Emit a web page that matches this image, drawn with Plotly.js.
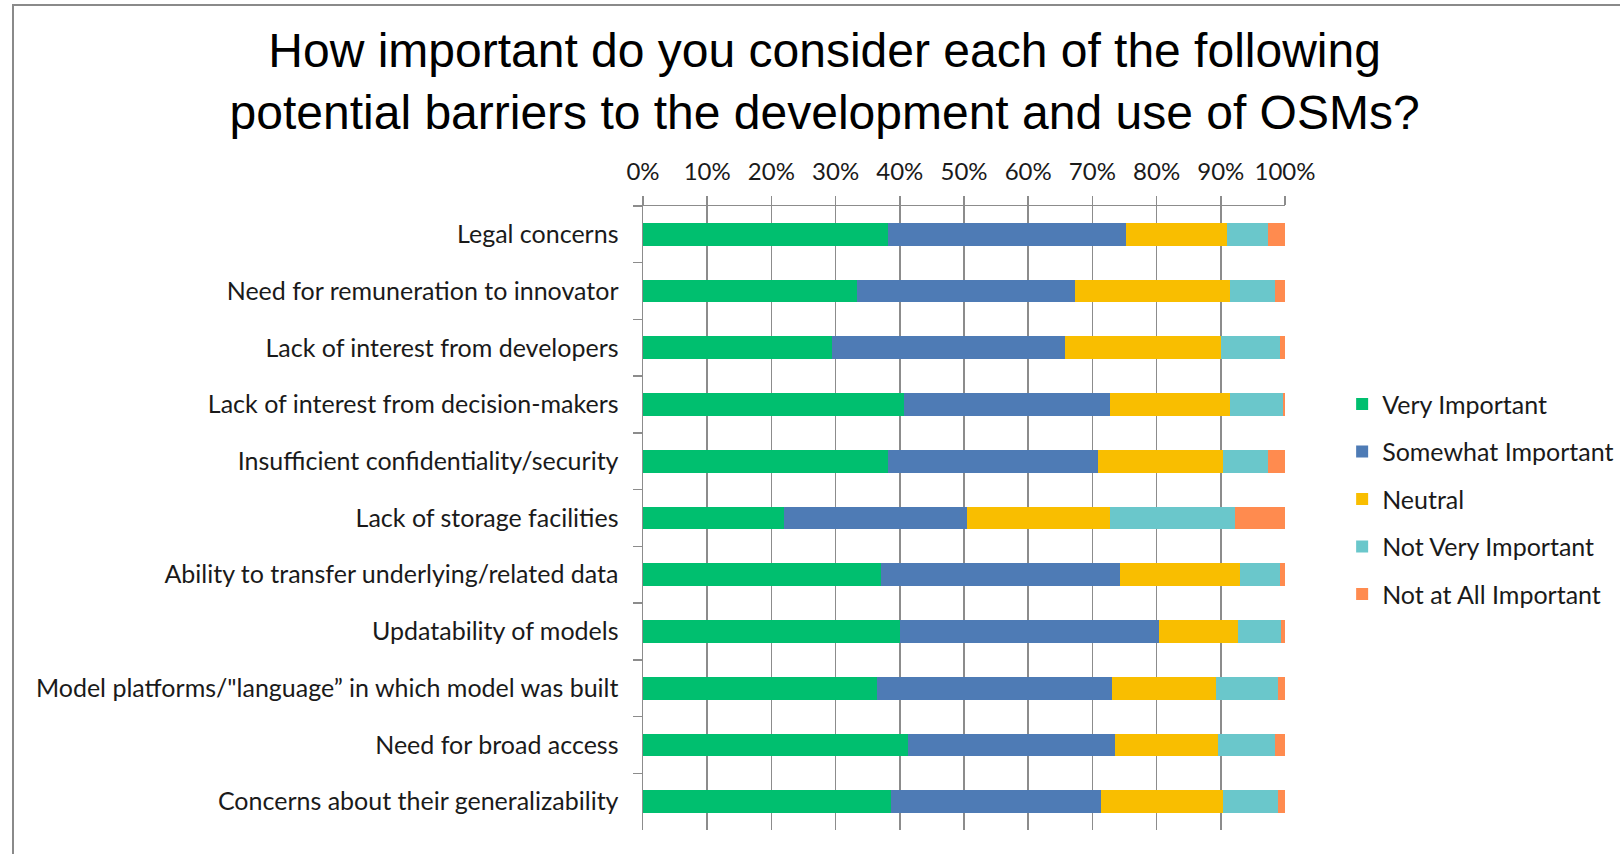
<!DOCTYPE html>
<html>
<head>
<meta charset="utf-8">
<script src="https://cdn.plot.ly/plotly-3.0.1.min.js"></script>
<style>
  html, body { margin: 0; padding: 0; background: #ffffff; }
  #wrap { position: relative; width: 1620px; height: 854px; overflow: hidden; }
  #chart { position: absolute; left: 0; top: 0; width: 1620px; height: 854px; }
  #frame { position: absolute; left: 12px; top: 4px; width: 1620px; height: 860px;
           border-top: 2px solid #8a8a8a; border-left: 2px solid #8a8a8a; pointer-events: none; }
</style>
</head>
<body>
<div id="wrap">
  <div id="chart"></div>
  <div id="frame"></div>
</div>
<script>
const categories = [
  'Legal concerns',
  'Need for remuneration to innovator',
  'Lack of interest from developers',
  'Lack of interest from decision-makers',
  'Insufficient confidentiality/security',
  'Lack of storage facilities',
  'Ability to transfer underlying/related data',
  'Updatability of models',
  'Model platforms/"language\u201d in which model was built',
  'Need for broad access',
  'Concerns about their generalizability'
];

const veryImportant     = [38.2, 33.4, 29.4, 40.7, 38.2, 22.0, 37.0, 40.0, 36.4, 41.2, 38.7];
const somewhatImportant = [37.1, 33.9, 36.3, 32.0, 32.7, 28.4, 37.3, 40.4, 36.7, 32.3, 32.6];
const neutral           = [15.6, 24.1, 24.3, 18.8, 19.5, 22.3, 18.7, 12.3, 16.1, 16.1, 19.1];
const notVeryImportant  = [ 6.5,  7.0,  9.2,  8.2,  7.0, 19.5,  6.2,  6.6,  9.7,  8.9,  8.5];
const notAtAllImportant = [ 2.6,  1.6,  0.8,  0.3,  2.6,  7.8,  0.8,  0.7,  1.1,  1.5,  1.1];

const seriesNames  = ['Very Important', 'Somewhat Important', 'Neutral', 'Not Very Important', 'Not at All Important'];
const seriesValues = [veryImportant, somewhatImportant, neutral, notVeryImportant, notAtAllImportant];
const seriesColors = ['#00BF6F', '#4E7BB5', '#F9BE00', '#6AC7CB', '#FF8B4F'];

const traces = seriesNames.map((name, i) => {
  const vals = seriesValues[i];
  return {
    type: 'bar',
    orientation: 'h',
    name: name,
    legendgroup: 'g' + i,
    y: categories,
    // share of each row's total (100% stacked)
    x: vals.map((v, j) => {
      let tot = 0;
      seriesValues.forEach(s => { tot += s[j]; });
      return v / tot;
    }),
    marker: { color: seriesColors[i], line: { width: 0 } },
    hovertemplate: '%{y}<br>' + name + ': %{x:.1%}<extra></extra>'
  };
});

const axisGray = '#8c8c8c';
const labelFont = 'Lato, sans-serif';

const layout = {
  width: 1620,
  height: 854,
  paper_bgcolor: '#ffffff',
  plot_bgcolor: '#ffffff',
  barmode: 'stack',
  bargap: 0.6,
  margin: { l: 643, r: 335, t: 206, b: 24, pad: 0, autoexpand: false },
  title: {
    text: 'How important do you consider each of the following<br>potential barriers to the development and use of OSMs?',
    font: { family: 'Liberation Sans, Arial, sans-serif', size: 48, color: '#000000' },
    x: 0.509, xref: 'container', xanchor: 'center',
    y: 0.922, yref: 'container', yanchor: 'middle'
  },
  xaxis: {
    side: 'top',
    range: [0, 1],
    dtick: 0.1,
    tick0: 0,
    tickformat: '.0%',
    showgrid: true,
    gridcolor: axisGray,
    gridwidth: 1.5,
    zeroline: false,
    showline: true,
    linecolor: axisGray,
    linewidth: 1.5,
    ticks: 'outside',
    ticklen: 9,
    tickwidth: 1.5,
    tickcolor: axisGray,
    ticklabelstandoff: 6,
    automargin: false,
    tickfont: { family: labelFont, size: 24, color: '#1a1a1a' },
    fixedrange: true
  },
  yaxis: {
    type: 'category',
    autorange: 'reversed',
    showgrid: false,
    zeroline: false,
    showline: true,
    linecolor: axisGray,
    linewidth: 1.5,
    ticks: 'outside',
    tickson: 'boundaries',
    ticklen: 9,
    tickwidth: 1.5,
    tickcolor: axisGray,
    ticklabelstandoff: 18,
    automargin: false,
    tickfont: { family: labelFont, size: 25, color: '#1a1a1a' },
    fixedrange: true
  },
  legend: {
    x: 1.089, xanchor: 'left',
    y: 0.53, yanchor: 'middle',
    traceorder: 'grouped',
    tracegroupgap: 12,
    font: { family: labelFont, size: 25, color: '#1a1a1a' },
    bgcolor: 'rgba(0,0,0,0)'
  },
  showlegend: true
};

Plotly.newPlot('chart', traces, layout, { displayModeBar: false, staticPlot: true });
</script>
</body>
</html>
